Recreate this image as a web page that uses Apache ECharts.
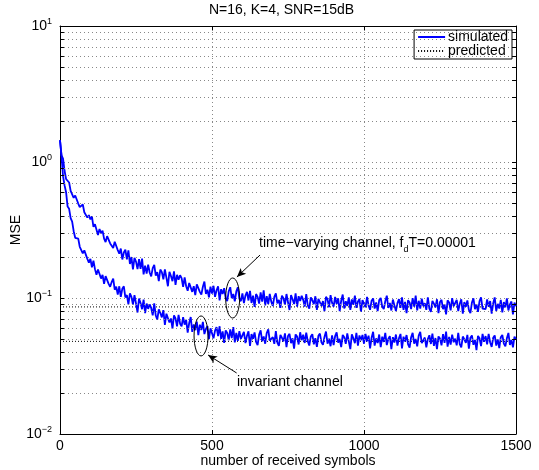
<!DOCTYPE html>
<html lang="en">
<head>
<meta charset="UTF-8">
<title>MSE vs number of received symbols</title>
<style>
  body { margin: 0; padding: 0; background: #fff; }
  #chart { width: 539px; height: 470px; }
</style>
</head>
<body>
<div id="chart"></div>
<script src="https://cdn.jsdelivr.net/npm/echarts@6/dist/echarts.min.js"></script>
<script>
// one value every STEP received symbols
const STEP = 5;

const timeVarying = [
  1.45, 1.12, 1.06, 0.862, 0.75, 0.745, 0.707, 0.614, 0.616, 0.545, 0.567, 0.551, 0.495, 0.466, 0.479, 0.487, 0.427, 0.425, 0.39, 0.407,
  0.378, 0.398, 0.334, 0.349, 0.356, 0.291, 0.322, 0.299, 0.313, 0.273, 0.258, 0.285, 0.292, 0.252, 0.259, 0.233, 0.259, 0.262, 0.225, 0.212,
  0.231, 0.192, 0.216, 0.227, 0.192, 0.224, 0.178, 0.2, 0.162, 0.197, 0.185, 0.163, 0.193, 0.164, 0.195, 0.149, 0.173, 0.151, 0.176, 0.154,
  0.144, 0.166, 0.175, 0.146, 0.155, 0.133, 0.162, 0.155, 0.137, 0.162, 0.141, 0.122, 0.156, 0.145, 0.133, 0.157, 0.125, 0.148, 0.136, 0.147,
  0.140, 0.121, 0.142, 0.122, 0.113, 0.129, 0.133, 0.111, 0.122, 0.105, 0.126, 0.130, 0.111, 0.106, 0.121, 0.132, 0.107, 0.115, 0.101, 0.121,
  0.108, 0.123, 0.102, 0.114, 0.122, 0.096, 0.116, 0.107, 0.118, 0.100, 0.095, 0.112, 0.120, 0.0996, 0.107, 0.0945, 0.112, 0.120, 0.0988, 0.0948,
  0.108, 0.0917, 0.104, 0.111, 0.0959, 0.113, 0.0919, 0.104, 0.086, 0.107, 0.102, 0.0911, 0.11, 0.0941, 0.114, 0.0882, 0.103, 0.0902, 0.107, 0.0941,
  0.0874, 0.102, 0.108, 0.0912, 0.097, 0.0845, 0.104, 0.0998, 0.0893, 0.107, 0.0931, 0.0816, 0.105, 0.0979, 0.0902, 0.108, 0.0864, 0.103, 0.095, 0.104,
  0.0968, 0.0865, 0.107, 0.0884, 0.0837, 0.101, 0.0959, 0.0902, 0.103, 0.0818, 0.0987, 0.102, 0.0874, 0.0949, 0.0799, 0.102, 0.0978, 0.0855, 0.105, 0.0921,
  0.0865, 0.102, 0.0902, 0.0994, 0.080, 0.0957, 0.106, 0.0837, 0.0948, 0.0874, 0.101, 0.0819, 0.0975, 0.0892, 0.104, 0.0846, 0.0938, 0.0984, 0.0791, 0.0966,
  0.0983, 0.0855, 0.102, 0.0883, 0.0819, 0.0956, 0.0992, 0.0837, 0.0928, 0.0801, 0.0965, 0.1, 0.0865, 0.0828, 0.0946, 0.104, 0.0846, 0.0919, 0.081, 0.0974,
  0.0945, 0.0801, 0.0918, 0.0981, 0.0846, 0.101, 0.0819, 0.0936, 0.0774, 0.0963, 0.0927, 0.0828, 0.0999, 0.0864, 0.104, 0.081, 0.0954, 0.0837, 0.099, 0.0873,
  0.0917, 0.0819, 0.101, 0.0837, 0.0792, 0.0952, 0.0908, 0.0854, 0.0979, 0.0774, 0.0935, 0.097, 0.0828, 0.0899, 0.0757, 0.0961, 0.0926, 0.081, 0.0997, 0.0872,
  0.0845, 0.0968, 0.0801, 0.0906, 0.0977, 0.0766, 0.0933, 0.0862, 0.0959, 0.0818, 0.0774, 0.0924, 0.0994, 0.0827, 0.0898, 0.0792, 0.095, 0.101, 0.0836, 0.081,
  0.0827, 0.0977, 0.0862, 0.095, 0.0766, 0.0915, 0.101, 0.0801, 0.0906, 0.0836, 0.0968, 0.0783, 0.0933, 0.0854, 0.0994, 0.081, 0.0898, 0.0942, 0.0757, 0.0924,
  0.087
];

const invariant = [
  1.45, 1.10, 0.787, 0.673, 0.599, 0.47, 0.453, 0.386, 0.364, 0.31, 0.277, 0.28, 0.273, 0.238, 0.235, 0.213, 0.224, 0.22, 0.194, 0.182,
  0.194, 0.168, 0.188, 0.163, 0.148, 0.162, 0.163, 0.139, 0.148, 0.127, 0.145, 0.146, 0.127, 0.121, 0.131, 0.139, 0.115, 0.121, 0.106, 0.122,
  0.102, 0.117, 0.122, 0.101, 0.105, 0.0898, 0.108, 0.102, 0.0893, 0.105, 0.0912, 0.0782, 0.0992, 0.0918, 0.0827, 0.0974, 0.0774, 0.091, 0.0832, 0.0896,
  0.0845, 0.0745, 0.0912, 0.0743, 0.0694, 0.0824, 0.0775, 0.072, 0.0814, 0.0635, 0.0767, 0.0785, 0.066, 0.0707, 0.0595, 0.0745, 0.0707, 0.0619, 0.075, 0.0647,
  0.062, 0.0722, 0.0637, 0.0691, 0.0557, 0.0655, 0.0725, 0.0564, 0.0639, 0.058, 0.0671, 0.0534, 0.0636, 0.0582, 0.0667, 0.0543, 0.0592, 0.0621, 0.0499, 0.0599,
  0.0599, 0.0505, 0.0575, 0.061, 0.0524, 0.062, 0.0501, 0.0569, 0.0468, 0.0578, 0.0553, 0.0491, 0.0588, 0.0507, 0.061, 0.0472, 0.0553, 0.0484, 0.057, 0.0501,
  0.0492, 0.0563, 0.0466, 0.0527, 0.0568, 0.0445, 0.0543, 0.0502, 0.0558, 0.0476, 0.045, 0.0538, 0.0578, 0.0481, 0.0522, 0.0461, 0.0553, 0.0589, 0.0486, 0.0471,
  0.0515, 0.046, 0.057, 0.047, 0.0445, 0.0535, 0.051, 0.048, 0.055, 0.0435, 0.0525, 0.0545, 0.0465, 0.0505, 0.0425, 0.054, 0.052, 0.0455, 0.056, 0.049,
  0.0537, 0.0467, 0.0557, 0.0482, 0.0447, 0.0522, 0.0542, 0.0457, 0.0507, 0.0437, 0.0527, 0.0547, 0.0472, 0.0452, 0.0517, 0.0567, 0.0462, 0.0502, 0.0442, 0.0532,
  0.045, 0.0525, 0.0559, 0.047, 0.05, 0.0436, 0.0535, 0.0515, 0.046, 0.0549, 0.048, 0.0421, 0.054, 0.0505, 0.0465, 0.0554, 0.0446, 0.053, 0.049, 0.0535,
  0.0461, 0.0544, 0.048, 0.0529, 0.0426, 0.051, 0.0564, 0.0446, 0.0505, 0.0466, 0.0539, 0.0436, 0.0519, 0.0475, 0.0554, 0.0451, 0.05, 0.0524, 0.0421, 0.0515,
  0.047, 0.0539, 0.0446, 0.0505, 0.0544, 0.0426, 0.0519, 0.048, 0.0534, 0.0456, 0.0431, 0.0515, 0.0554, 0.0461, 0.05, 0.0441, 0.0529, 0.0564, 0.0466, 0.0451,
  0.0512, 0.0434, 0.0498, 0.0532, 0.0459, 0.0547, 0.0444, 0.0508, 0.042, 0.0522, 0.0503, 0.0449, 0.0542, 0.0468, 0.0566, 0.0439, 0.0517, 0.0454, 0.0537, 0.0473,
  0.0502, 0.0448, 0.0555, 0.0458, 0.0433, 0.0521, 0.0497, 0.0468, 0.0536, 0.0424, 0.0511, 0.0531, 0.0453, 0.0492, 0.0414, 0.0526, 0.0506, 0.0443, 0.0545, 0.0477,
  0.0525, 0.0457, 0.0544, 0.0471, 0.0437, 0.051, 0.053, 0.0447, 0.0496, 0.0428, 0.0515, 0.0535, 0.0462, 0.0442, 0.0505, 0.0554, 0.0452, 0.0491, 0.0433, 0.052,
  0.0495
];

// steady-state predictions (dotted lines)
const predictedTV = 0.086;
const predictedInv = 0.048;

const xRange = [0, 1500];
const yRange = [0.01, 10];
const minorY = [0.02, 0.03, 0.04, 0.05, 0.06, 0.07, 0.08, 0.09,
                0.2, 0.3, 0.4, 0.5, 0.6, 0.7, 0.8, 0.9,
                2, 3, 4, 5, 6, 7, 8, 9];

// annotations: ellipse centres, arrows (tail -> head), notes
const ellipseAt = [[568, 0.1], [464, 0.0526]];
const arrowLines = [
  [[658, 0.207], [582, 0.1427]],
  [[581, 0.0281], [487, 0.0381]]
];
const noteAt = [[655, 0.252], [582, 0.0241]];
const noteText = ['{n|time\u2212varying channel, f}{d|d}{n|T=0.00001}', '{n|invariant channel}'];

const FONT = 'Liberation Sans, Arial, Helvetica, sans-serif';
const gridDots = { color: '#888', width: 1, type: [1, 3] };
const tickLen = 13; // in symbols, about 4 px

const toPairs = arr => arr.map((v, i) => [i * STEP, v]);

const chart = echarts.init(document.getElementById('chart'), null, { renderer: 'canvas' });

function expLabel(v) {
  const e = Math.round(Math.log10(v));
  return '{b|10}{s|' + String(e).replace('-', '\u2212') + '}';
}

const minorGridLines = minorY.map(v => ({ yAxis: v }));
const minorTicks = [];
minorY.forEach(v => {
  minorTicks.push([{ coord: [xRange[0], v] }, { coord: [xRange[0] + tickLen, v] }]);
  minorTicks.push([{ coord: [xRange[1] - tickLen, v] }, { coord: [xRange[1], v] }]);
});

const option = {
  animation: false,
  backgroundColor: '#fff',
  textStyle: { fontFamily: FONT },
  title: {
    text: 'N=16, K=4, SNR=15dB',
    left: 209,
    textAlign: 'left',
    top: 3,
    padding: 0,
    textStyle: { fontSize: 14, fontWeight: 'normal', color: '#000', fontFamily: FONT }
  },
  legend: {
    data: ['simulated', 'predicted'],
    orient: 'vertical',
    right: 27,
    top: 30,
    itemWidth: 27,
    itemHeight: 15,
    itemGap: 0,
    padding: [0, 4, 1, 3],
    borderColor: '#000',
    borderWidth: 1,
    backgroundColor: '#fff',
    itemStyle: { opacity: 0 },
    textStyle: { fontSize: 14, color: '#000', fontFamily: FONT, padding: [0, 0, 0, -2] },
    selectedMode: false
  },
  grid: {
    left: 60, right: 23, top: 26, bottom: 36,
    containLabel: false,
    outerBoundsMode: 'none'
  },
  xAxis: [{
    type: 'value',
    min: xRange[0], max: xRange[1], interval: 500,
    name: 'number of received symbols',
    nameLocation: 'middle',
    nameGap: 20,
    nameMoveOverlap: false,
    nameTextStyle: { fontSize: 14, color: '#000', fontFamily: FONT },
    axisLine: { show: true, onZero: false, lineStyle: { color: '#000', width: 1 } },
    axisTick: { show: true, inside: true, length: 4, lineStyle: { color: '#000' } },
    axisLabel: {
      fontSize: 14, color: '#000', margin: 5, fontFamily: FONT,
      showMinLabel: true, showMaxLabel: true,
      formatter: v => String(v)
    },
    splitLine: { show: true, lineStyle: gridDots }
  }, {
    type: 'value', position: 'top',
    min: xRange[0], max: xRange[1], interval: 500,
    axisLine: { show: true, onZero: false, lineStyle: { color: '#000', width: 1 } },
    axisTick: { show: true, inside: true, length: 4, lineStyle: { color: '#000' } },
    axisLabel: { show: false },
    splitLine: { show: false }
  }],
  yAxis: [{
    type: 'log', logBase: 10,
    min: yRange[0], max: yRange[1],
    name: 'MSE',
    nameLocation: 'middle',
    nameGap: 37,
    nameMoveOverlap: false,
    nameRotate: 90,
    nameTextStyle: { fontSize: 14, color: '#000', fontFamily: FONT },
    axisLine: { show: true, onZero: false, lineStyle: { color: '#000', width: 1 } },
    axisTick: { show: true, inside: true, length: 4, lineStyle: { color: '#000' } },
    axisLabel: {
      margin: 8,
      showMinLabel: true, showMaxLabel: true,
      formatter: expLabel,
      rich: {
        b: { fontSize: 14, lineHeight: 18, verticalAlign: 'middle', color: '#000', fontFamily: FONT },
        s: { fontSize: 9, lineHeight: 9, verticalAlign: 'top', color: '#000', fontFamily: FONT }
      }
    },
    splitLine: { show: true, lineStyle: gridDots }
  }, {
    type: 'log', logBase: 10, position: 'right',
    min: yRange[0], max: yRange[1],
    axisLine: { show: true, onZero: false, lineStyle: { color: '#000', width: 1 } },
    axisTick: { show: true, inside: true, length: 4, lineStyle: { color: '#000' } },
    axisLabel: { show: false },
    splitLine: { show: false }
  }],
  series: [
    {
      // minor log grid
      name: 'grid',
      type: 'line',
      data: [],
      z: 1,
      silent: true,
      symbol: 'none',
      markLine: {
        silent: true,
        symbol: 'none',
        label: { show: false },
        emphasis: { disabled: true },
        lineStyle: gridDots,
        data: minorGridLines
      }
    },
    {
      name: 'predicted',
      type: 'line',
      data: [[xRange[0], predictedTV], [xRange[1], predictedTV]],
      symbol: 'none',
      z: 2,
      silent: true,
      lineStyle: { color: '#000', width: 1, type: [1, 2] },
      itemStyle: { color: '#000' }
    },
    {
      name: 'predicted',
      type: 'line',
      data: [[xRange[0], predictedInv], [xRange[1], predictedInv]],
      symbol: 'none',
      z: 2,
      silent: true,
      lineStyle: { color: '#000', width: 1, type: [1, 2] },
      itemStyle: { color: '#000' }
    },
    {
      name: 'simulated',
      type: 'line',
      data: toPairs(timeVarying),
      symbol: 'none',
      z: 3,
      silent: true,
      lineStyle: { color: '#0000ff', width: 1.8 },
      itemStyle: { color: '#0000ff' }
    },
    {
      name: 'simulated',
      type: 'line',
      data: toPairs(invariant),
      symbol: 'none',
      z: 3,
      silent: true,
      lineStyle: { color: '#0000ff', width: 1.8 },
      itemStyle: { color: '#0000ff' }
    },
    {
      // minor ticks and annotation arrows
      name: 'marks',
      type: 'line',
      data: [],
      z: 5,
      silent: true,
      symbol: 'none',
      markLine: {
        silent: true,
        symbol: 'none',
        label: { show: false },
        emphasis: { disabled: true },
        lineStyle: { color: '#000', width: 1, type: 'solid' },
        data: minorTicks.concat(arrowLines.map(a => [
          { coord: a[0], symbol: 'none' },
          { coord: a[1], symbol: 'arrow', symbolSize: [6, 9] }
        ]))
      }
    },
    {
      name: 'ellipses',
      type: 'custom',
      data: ellipseAt,
      z: 6,
      silent: true,
      renderItem: (params, api) => {
        const p = api.coord([api.value(0), api.value(1)]);
        return {
          type: 'ellipse',
          shape: { cx: p[0], cy: p[1], rx: 7, ry: 20 },
          style: { fill: 'none', stroke: '#000', lineWidth: 1 }
        };
      }
    },
    {
      name: 'notes',
      type: 'custom',
      data: noteAt.map((p, i) => [p[0], p[1], i]),
      z: 6,
      silent: true,
      renderItem: (params, api) => {
        const p = api.coord([api.value(0), api.value(1)]);
        return {
          type: 'text',
          x: p[0], y: p[1],
          style: {
            text: noteText[api.value(2)],
            align: 'left',
            verticalAlign: 'middle',
            fill: '#000',
            rich: {
              n: { fontSize: 14, lineHeight: 22, verticalAlign: 'middle', fill: '#000', fontFamily: FONT },
              d: { fontSize: 9, lineHeight: 9, verticalAlign: 'bottom', fill: '#000', fontFamily: FONT }
            }
          }
        };
      }
    }
  ]
};

chart.setOption(option);
</script>
</body>
</html>
